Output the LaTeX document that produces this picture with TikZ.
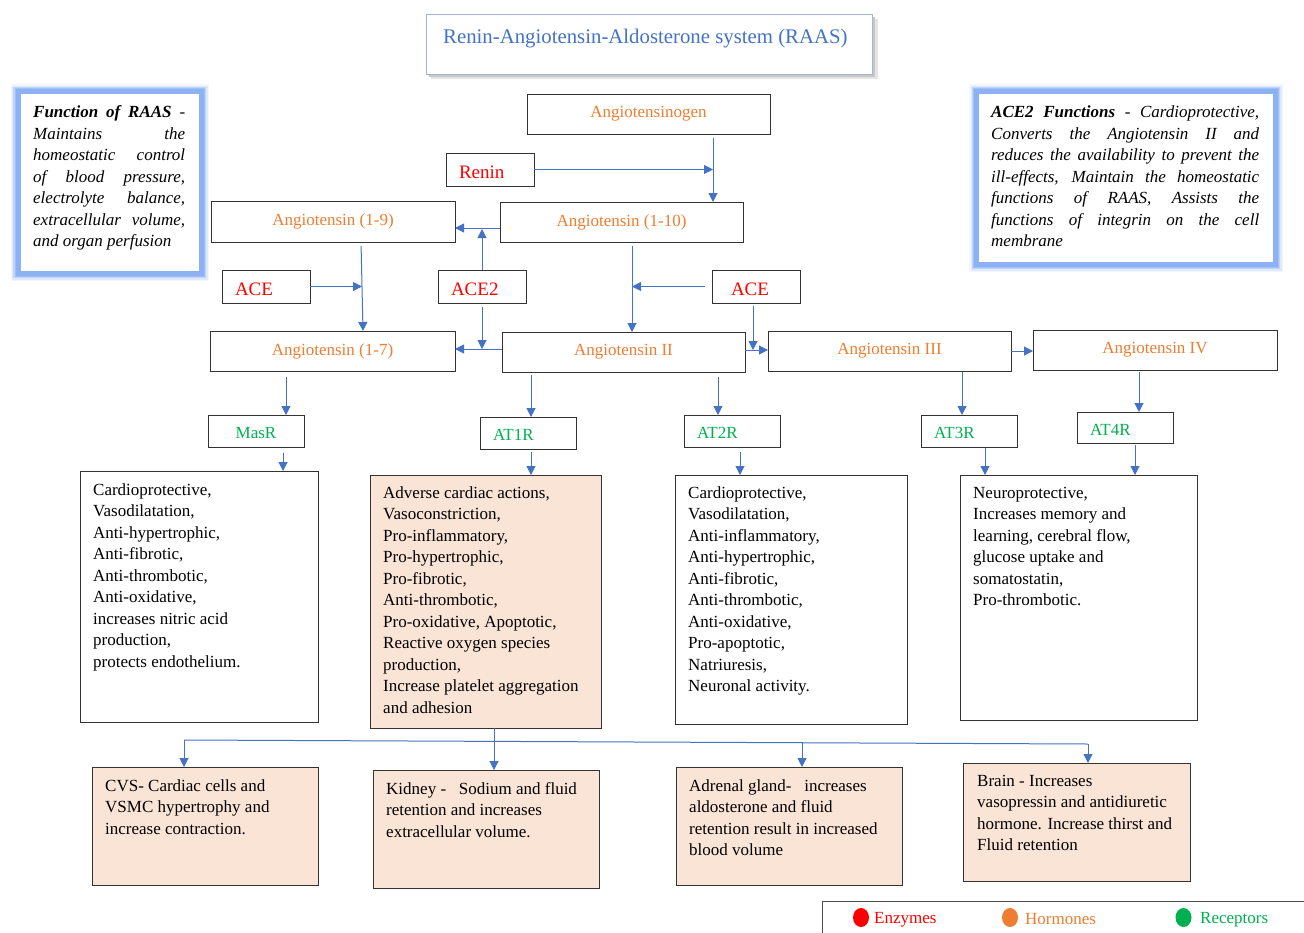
\documentclass[tikz,border=0pt]{standalone}
\usepackage{fontspec}
\setmainfont{Liberation Serif}
\usetikzlibrary{arrows.meta,shapes.geometric}
\definecolor{horm}{RGB}{237,125,49}
\definecolor{enz}{RGB}{255,0,0}
\definecolor{rec}{RGB}{0,176,80}
\definecolor{arrblue}{RGB}{68,114,196}
\definecolor{peach}{RGB}{250,228,214}
\definecolor{glowc}{RGB}{140,178,245}
\definecolor{titleborder}{RGB}{165,180,215}
\newcommand{\jl}[2]{\hbox to #1{\spaceskip=0.25em plus 1fil\relax #2}}
\begin{document}
\begin{tikzpicture}[x=1pt,y=-1pt]
\tikzset{
  box/.style={draw=black!80, line width=1pt, inner sep=0pt, outer sep=0pt, anchor=north west},
  horm/.style={box, text=horm, font=\fontsize{17}{20}\selectfont},
  enzy/.style={box, text=enz, font=\fontsize{19}{22}\selectfont, align=left, inner xsep=13pt, text width=62pt, text height=18pt, text depth=0pt, minimum height=33},
  recp/.style={box, text=rec, font=\fontsize{17}{20}\selectfont, align=left, inner xsep=13pt, text width=70pt, text height=15pt, text depth=0pt},
  peachbox/.style={box, fill=peach},
  efftext/.style={anchor=north west, inner sep=0pt, align=left, font=\fontsize{17}{21.5}\selectfont},
  arr/.style={draw=arrblue, line width=1pt, -{Triangle[length=9pt,width=9pt]}},
  conn/.style={draw=arrblue, line width=1pt},
  glowbox/.style={anchor=north west, inner sep=0pt, outer sep=0pt, fill=white, draw=glowc, line width=5pt,
     preaction={draw=glowc, line width=15pt, draw opacity=0.1},
     preaction={draw=glowc, line width=12pt, draw opacity=0.2},
     preaction={draw=glowc, line width=9.5pt, draw opacity=0.35},
     preaction={draw=glowc, line width=7pt, draw opacity=0.6}},
  legtext/.style={anchor=west, inner sep=0pt, font=\fontsize{17}{20}\selectfont},
  legdot/.style={ellipse, inner sep=0pt, minimum width=16, minimum height=19},
}
\useasboundingbox (0,0) rectangle (1304,932);
\fill[white] (0,0) rectangle (1304,932);

% title
\fill[black!10] (431,19) rectangle (878,79);
\fill[black!22] (429,17) rectangle (875,76.5);
\node[box, draw=titleborder, fill=white, minimum width=446, minimum height=60] (title) at (426,14) {};
\node[anchor=west, inner sep=0pt, text=arrblue, font=\fontsize{20.8}{24}\selectfont] (titletxt) at (443,38.5) {Renin-Angiotensin-Aldosterone system (RAAS)};

% glow boxes
\node[glowbox, minimum width=183.5, minimum height=182] (fbox) at (18,91.5) {};
\node[anchor=north west, inner sep=0pt, font=\fontsize{17}{21.5}\selectfont\itshape] (ftxt) at (33,105.5) {\vbox{%
\jl{152pt}{\textbf{Function of RAAS} -}
\jl{152pt}{Maintains the}
\jl{152pt}{homeostatic control}
\jl{152pt}{of blood pressure,}
\jl{152pt}{electrolyte balance,}
\jl{152pt}{extracellular volume,}
\hbox{and organ perfusion}}};

\node[glowbox, minimum width=299, minimum height=173] (abox) at (976.5,91.5) {};
\node[anchor=north west, inner sep=0pt, font=\fontsize{17}{21.5}\selectfont\itshape] (atxt) at (991,105.5) {\vbox{%
\jl{268pt}{\textbf{ACE2 Functions} - Cardioprotective,}
\jl{268pt}{Converts the Angiotensin II and}
\jl{268pt}{reduces the availability to prevent the}
\jl{268pt}{ill-effects, Maintain the homeostatic}
\jl{268pt}{functions of RAAS, Assists the}
\jl{268pt}{functions of integrin on the cell}
\hbox{membrane}}};

% hormones
\node[horm, minimum width=243, minimum height=40] (agn) at (527,94) {Angiotensinogen};
\node[horm, minimum width=243, minimum height=40] (a10) at (500,202) {Angiotensin (1-10)};
\node[horm, minimum width=244, minimum height=41] (a9) at (211,201) {Angiotensin (1-9)};
\node[horm, minimum width=245, minimum height=40] (a17) at (210,331) {Angiotensin (1-7)};
\node[horm, minimum width=243, minimum height=40] (a2) at (502,332) {Angiotensin II};
\node[horm, minimum width=243, minimum height=40] (a3) at (768,331) {Angiotensin III};
\node[horm, minimum width=244, minimum height=40] (a4) at (1033,330) {Angiotensin IV};

% enzymes
\node[enzy] (renin) at (446,153) {Renin};
\node[enzy] (ace1) at (222,270) {ACE};
\node[enzy] (ace2) at (438,270) {ACE2};
\node[enzy, inner xsep=19pt, text width=50pt] (ace3) at (712,270) {ACE};

% receptors
\node[recp, align=center, minimum height=32] (masr) at (208,415) {MasR};
\node[recp, minimum height=32] (at1r) at (480,417) {AT1R};
\node[recp, minimum height=32] (at2r) at (684,415) {AT2R};
\node[recp, minimum height=32] (at3r) at (921,415) {AT3R};
\node[recp, minimum height=31] (at4r) at (1077,412) {AT4R};

% effect boxes
\node[box, minimum width=238, minimum height=251] (e1) at (80,471) {};
\node[peachbox, minimum width=231, minimum height=253] (e2) at (370,475) {};
\node[box, minimum width=232, minimum height=249] (e3) at (675,475) {};
\node[box, minimum width=237, minimum height=245] (e4) at (960,475) {};

\node[efftext] (e1t) at ([xshift=13pt,yshift=-12pt]e1.north west) {Cardioprotective,\\Vasodilatation,\\Anti-hypertrophic,\\Anti-fibrotic,\\Anti-thrombotic,\\Anti-oxidative,\\increases nitric acid\\production,\\protects endothelium.};
\node[efftext] (e2t) at ([xshift=13pt,yshift=-11pt]e2.north west) {Adverse cardiac actions,\\Vasoconstriction,\\Pro-inflammatory,\\Pro-hypertrophic,\\Pro-fibrotic,\\Anti-thrombotic,\\Pro-oxidative, Apoptotic,\\Reactive oxygen species\\production,\\Increase platelet aggregation\\and adhesion};
\node[efftext] (e3t) at ([xshift=13pt,yshift=-11pt]e3.north west) {Cardioprotective,\\Vasodilatation,\\Anti-inflammatory,\\Anti-hypertrophic,\\Anti-fibrotic,\\Anti-thrombotic,\\Anti-oxidative,\\Pro-apoptotic,\\Natriuresis,\\Neuronal activity.};
\node[efftext] (e4t) at ([xshift=13pt,yshift=-12pt]e4.north west) {Neuroprotective,\\Increases memory and\\learning, cerebral flow,\\glucose uptake and\\somatostatin,\\Pro-thrombotic.};

% organ boxes
\node[peachbox, minimum width=226, minimum height=118] (cvs) at (92,767) {};
\node[peachbox, minimum width=226, minimum height=118] (kid) at (373,770) {};
\node[peachbox, minimum width=226, minimum height=118] (adr) at (676,767) {};
\node[peachbox, minimum width=227, minimum height=118] (brn) at (963,763) {};
\node[efftext] (cvst) at ([xshift=13pt,yshift=-12pt]cvs.north west) {CVS- Cardiac cells and\\VSMC hypertrophy and\\increase contraction.};
\node[efftext] (kidt) at ([xshift=13pt,yshift=-12pt]kid.north west) {Kidney -\ \ \ Sodium and fluid\\retention and increases\\extracellular volume.};
\node[efftext] (adrt) at ([xshift=13pt,yshift=-12pt]adr.north west) {Adrenal gland-\ \ \ increases\\aldosterone and fluid\\retention result in increased\\blood volume};
\node[efftext] (brnt) at ([xshift=14pt,yshift=-12pt]brn.north west) {Brain - Increases\\vasopressin and antidiuretic\\hormone. Increase thirst and\\Fluid retention};

% legend
\node[box, draw=black!70, minimum width=495, minimum height=45] (legend) at (822,901) {};
\node[legdot, fill=enz] (ld1) at (861,917.5) {};
\node[legdot, fill=horm] (ld2) at (1010,917.5) {};
\node[legdot, fill=rec] (ld3) at (1183.5,917.5) {};
\node[legtext, text=enz] (lt1) at (874,920) {Enzymes};
\node[legtext, text=horm] (lt2) at (1025,919.5) {Hormones};
\node[legtext, text=rec] (lt3) at (1200,920) {Receptors};

% junction coordinates
\coordinate (p1) at (713,168);
\coordinate (p2) at (482,228);
\coordinate (p3) at (482,349);
\coordinate (p4) at (362,288);
\coordinate (p5) at (632,286);
\coordinate (p6) at (753,350);
\coordinate (c1) at (286,0);
\coordinate (c2) at (531,0);
\coordinate (c3) at (718,0);
\coordinate (c4) at (962,0);
\coordinate (c5) at (1139,0);
\coordinate (c6) at (283,0);
\coordinate (c7) at (740,0);
\coordinate (c8) at (985,0);
\coordinate (c9) at (1135,0);
\coordinate (c10) at (494,0);
\coordinate (h1) at (184,740);
\coordinate (h2) at (1088,744);
\coordinate (h3) at (802,742.7);

% connectors upper
\draw[arr, shorten <=4pt] (agn.south -| p1) -- (a10.north -| p1);
\draw[arr] (renin.east) -- (renin.east -| p1);
\draw[arr] (a10.west |- p2) -- (a9.east |- p2);
\draw[arr, shorten >=1pt] (ace2.north) -- (p2);
\draw[arr, shorten <=4pt] (ace2.south) -- (p3);
\draw[arr] (a2.west |- p3) -- (a17.east |- p3);
\draw[arr, shorten <=4pt] ([xshift=28pt]a9.south) -- ([xshift=30.5pt]a17.north);
\draw[arr] (ace1.east) -- (ace1.east -| p4);
\draw[arr, shorten <=4pt] (a10.south -| p5) -- (a2.north -| p5);
\draw[arr, shorten <=7pt] (ace3.west) -- (ace3.west -| p5);
\draw[arr, shorten <=3pt] (ace3.south -| p6) -- (p6);
\draw[arr] (a2.east |- p6) -- (a3.west |- p6);
\draw[arr] (a3.east) -- (a4.west |- a3.east);

% to receptors
\draw[arr, shorten <=6pt] (a17.south -| c1) -- (masr.north -| c1);
\draw[arr, shorten <=3pt] (a2.south -| c2) -- (at1r.north -| c2);
\draw[arr, shorten <=5pt] (a2.south -| c3) -- (at2r.north -| c3);
\draw[arr, shorten <=1pt] (a3.south -| c4) -- (at3r.north -| c4);
\draw[arr, shorten <=2pt] (a4.south -| c5) -- (at4r.north -| c5);

% to effects
\draw[arr, shorten <=6pt] (masr.south -| c6) -- (e1.north -| c6);
\draw[arr, shorten <=3pt] (at1r.south -| c2) -- (e2.north -| c2);
\draw[arr, shorten <=5pt] (at2r.south -| c7) -- (e3.north -| c7);
\draw[arr, shorten <=1pt] (at3r.south -| c8) -- (e4.north -| c8);
\draw[arr, shorten <=2pt] (at4r.south -| c9) -- (e4.north -| c9);

% to organs
\draw[arr] (e2.south -| c10) -- (kid.north -| c10);
\draw[conn] (h1) -- (h2);
\draw[arr] (h1) -- (cvs.north -| h1);
\draw[arr] (h3) -- (adr.north -| h3);
\draw[arr] (h2) -- (brn.north -| h2);
\end{tikzpicture}
\end{document}
